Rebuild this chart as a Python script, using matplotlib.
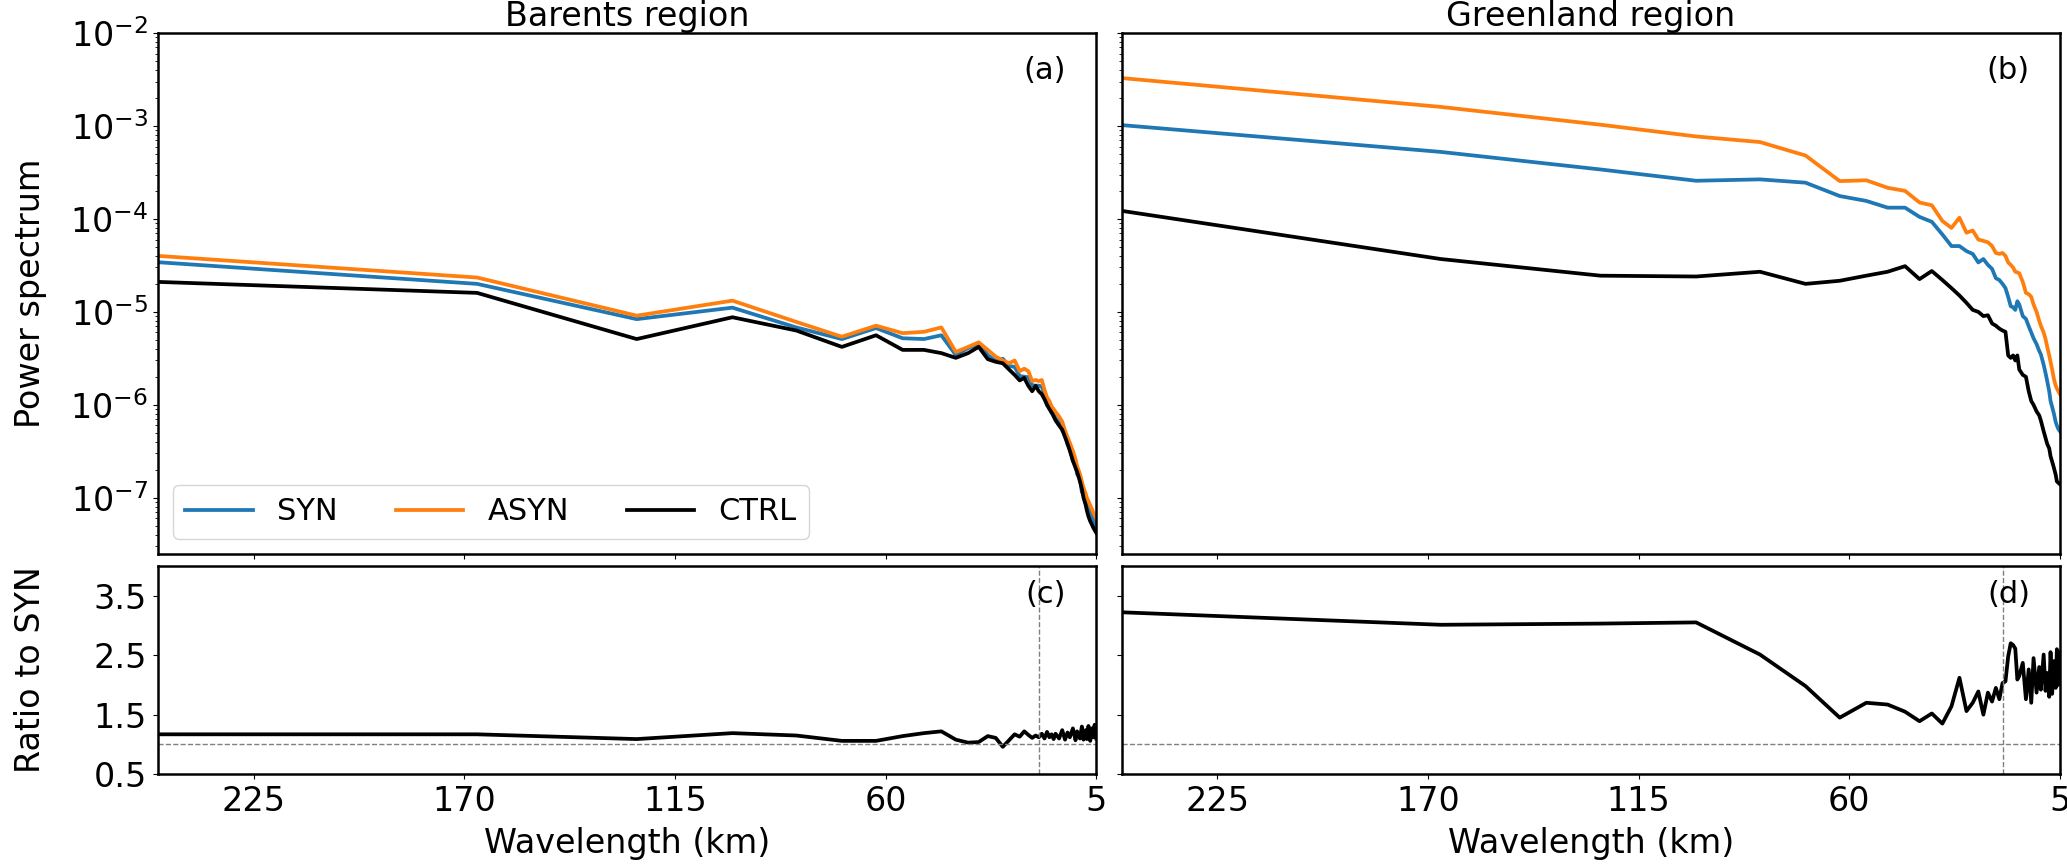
import numpy as np
import matplotlib.pyplot as plt
from matplotlib.gridspec import GridSpec

# wavelength (km) of each spectral bin, 500 km domain / wavenumber
wavelength = [250, 166.67, 125, 100, 83.33, 71.43, 62.5, 55.56, 50, 45.45,
              41.67, 38.46, 35.71, 33.33, 31.25, 29.41, 27.78, 26.32, 25, 23.81,
              22.73, 21.74, 20.83, 20, 19.23, 18.52, 17.86, 17.24, 16.67, 16.13,
              15.63, 14.71, 13.89, 13.16, 12.5, 11.9, 11.11, 10.42, 10, 9.26,
              8.77, 8.33, 7.81, 7.46, 7.04, 6.58, 6.1, 5.81, 5.43, 5]

# Barents region
barents_syn = [3.42e-5, 2.0e-5, 8.35e-6, 1.11e-5, 6.8e-6, 5.1e-6, 6.7e-6, 5.2e-6, 5.1e-6, 5.6e-6,
               3.43e-6, 4.08e-6, 4.52e-6, 3.42e-6, 2.97e-6, 3.13e-6, 2.62e-6, 2.56e-6, 2.04e-6, 2.01e-6,
               1.98e-6, 1.62e-6, 1.61e-6, 1.61e-6, 1.57e-6, 1.32e-6, 9.9e-7, 9.8e-7, 8.2e-7, 8.3e-7,
               7.1e-7, 6.8e-7, 5.3e-7, 4.9e-7, 3.75e-7, 3.5e-7, 2.5e-7, 2.4e-7, 1.8e-7, 1.64e-7,
               1.15e-7, 1.19e-7, 9.0e-8, 9.2e-8, 7.0e-8, 7.8e-8, 5.9e-8, 6.25e-8, 4.9e-8, 5.45e-8]
barents_asyn = [4.0e-5, 2.34e-5, 9.1e-6, 1.32e-5, 7.8e-6, 5.4e-6, 7.1e-6, 5.9e-6, 6.1e-6, 6.8e-6,
                3.7e-6, 4.2e-6, 4.7e-6, 3.9e-6, 3.3e-6, 3.0e-6, 2.8e-6, 3.0e-6, 2.3e-6, 2.45e-6,
                2.3e-6, 1.8e-6, 1.85e-6, 1.8e-6, 1.85e-6, 1.45e-6, 1.2e-6, 1.1e-6, 9.6e-7, 9.0e-7,
                8.4e-7, 7.5e-7, 6.6e-7, 5.3e-7, 4.5e-7, 3.9e-7, 3.2e-7, 2.6e-7, 2.2e-7, 1.8e-7,
                1.5e-7, 1.28e-7, 1.12e-7, 1.0e-7, 9.2e-8, 8.3e-8, 7.5e-8, 7.0e-8, 6.5e-8, 6.0e-8]
barents_ctrl = [2.1e-5, 1.6e-5, 5.1e-6, 8.75e-6, 6.3e-6, 4.2e-6, 5.6e-6, 3.9e-6, 3.9e-6, 3.6e-6,
                3.2e-6, 3.6e-6, 4.2e-6, 3.1e-6, 2.9e-6, 2.8e-6, 2.4e-6, 2.1e-6, 1.83e-6, 1.95e-6,
                1.6e-6, 1.4e-6, 1.6e-6, 1.4e-6, 1.3e-6, 1.15e-6, 1.0e-6, 9.0e-7, 8.3e-7, 7.5e-7,
                6.8e-7, 6.0e-7, 5.4e-7, 4.5e-7, 3.8e-7, 3.2e-7, 2.5e-7, 2.1e-7, 1.9e-7, 1.5e-7,
                1.25e-7, 1.0e-7, 8.5e-8, 7.3e-8, 6.3e-8, 5.6e-8, 5.1e-8, 4.8e-8, 4.5e-8, 4.2e-8]
barents_ratio = [1.17, 1.17, 1.09, 1.19, 1.15, 1.06, 1.06, 1.14, 1.19, 1.22,
                 1.08, 1.03, 1.04, 1.14, 1.11, 0.96, 1.07, 1.17, 1.13, 1.22,
                 1.16, 1.11, 1.15, 1.12, 1.18, 1.10, 1.21, 1.12, 1.17, 1.09,
                 1.18, 1.10, 1.24, 1.08, 1.20, 1.12, 1.27, 1.07, 1.22, 1.10,
                 1.30, 1.08, 1.24, 1.09, 1.31, 1.06, 1.27, 1.12, 1.33, 1.10]

# Greenland region
greenland_syn = [1.02e-3, 5.25e-4, 3.4e-4, 2.57e-4, 2.66e-4, 2.45e-4, 1.76e-4, 1.56e-4, 1.32e-4, 1.32e-4,
                 1.05e-4, 9.3e-5, 6.8e-5, 5.1e-5, 5.1e-5, 4.5e-5, 4.2e-5, 3.4e-5, 3.7e-5, 3.2e-5,
                 2.9e-5, 2.3e-5, 2.2e-5, 2.0e-5, 1.8e-5, 1.45e-5, 1.15e-5, 1.12e-5, 1.05e-5, 1.3e-5,
                 1.2e-5, 9.0e-6, 8.4e-6, 7.0e-6, 6.0e-6, 5.2e-6, 4.5e-6, 3.8e-6, 3.5e-6, 2.7e-6,
                 2.2e-6, 1.8e-6, 1.4e-6, 1.1e-6, 9.5e-7, 8.0e-7, 6.5e-7, 6.0e-7, 5.5e-7, 5.2e-7]
greenland_asyn = [3.27e-3, 1.6e-3, 1.03e-3, 7.7e-4, 6.7e-4, 4.8e-4, 2.55e-4, 2.6e-4, 2.16e-4, 2.0e-4,
                  1.5e-4, 1.4e-4, 9.5e-5, 8.0e-5, 1.03e-4, 7.1e-5, 7.5e-5, 6.0e-5, 5.8e-5, 5.6e-5,
                  5.1e-5, 4.3e-5, 4.2e-5, 4.3e-5, 4.0e-5, 3.4e-5, 3.2e-5, 3.0e-5, 2.7e-5, 2.66e-5,
                  2.6e-5, 2.1e-5, 1.6e-5, 1.55e-5, 1.45e-5, 1.2e-5, 1.0e-5, 8.0e-6, 7.1e-6, 6.0e-6,
                  5.1e-6, 4.2e-6, 3.4e-6, 2.9e-6, 2.4e-6, 1.9e-6, 1.6e-6, 1.5e-6, 1.4e-6, 1.3e-6]
greenland_ctrl = [1.22e-4, 3.7e-5, 2.45e-5, 2.4e-5, 2.7e-5, 2.0e-5, 2.16e-5, 2.45e-5, 2.7e-5, 3.1e-5,
                  2.25e-5, 2.75e-5, 2.2e-5, 1.8e-5, 1.5e-5, 1.25e-5, 1.05e-5, 1.0e-5, 9.0e-6, 9.2e-6,
                  7.5e-6, 7.1e-6, 6.6e-6, 6.3e-6, 6.1e-6, 3.4e-6, 3.2e-6, 3.4e-6, 3.0e-6, 3.4e-6,
                  2.4e-6, 2.1e-6, 2.0e-6, 1.4e-6, 1.1e-6, 1.0e-6, 8.5e-7, 7.7e-7, 6.8e-7, 5.2e-7,
                  4.4e-7, 3.8e-7, 3.4e-7, 2.8e-7, 2.45e-7, 2.1e-7, 1.76e-7, 1.5e-7, 1.45e-7, 1.4e-7]
greenland_ratio = [3.22, 3.01, 3.03, 3.05, 2.51, 1.98, 1.45, 1.70, 1.67, 1.55,
                   1.39, 1.52, 1.35, 1.64, 2.12, 1.56, 1.70, 1.89, 1.50, 1.87,
                   1.72, 1.95, 1.76, 2.03, 2.06, 2.48, 2.70, 2.67, 2.61, 2.09,
                   2.15, 2.37, 1.76, 2.26, 1.70, 2.45, 1.87, 2.30, 1.92, 2.51,
                   1.90, 2.20, 1.80, 2.55, 1.85, 2.40, 1.95, 2.60, 2.00, 2.55]

regions = ['Barents region', 'Greenland region']
spectra = [(barents_syn, barents_asyn, barents_ctrl), (greenland_syn, greenland_asyn, greenland_ctrl)]
ratios = [barents_ratio, greenland_ratio]
names = ['SYN', 'ASYN', 'CTRL']
colors = ['#1f77b4', '#ff7f0e', 'black']
letters = [('(a)', '(c)'), ('(b)', '(d)')]
xticks = [225, 170, 115, 60, 5]
cutoff_km = 20

fs = 24
fig = plt.figure(figsize=(20.67, 8.66), dpi=100)
gs = GridSpec(2, 2, figure=fig, height_ratios=[2.5, 1], left=0.0764, right=0.9966,
              top=0.962, bottom=0.106, wspace=0.027, hspace=0.033)

ax_top0 = None
ax_bot0 = None
for col in range(2):
    ax = fig.add_subplot(gs[0, col], sharey=ax_top0)
    axr = fig.add_subplot(gs[1, col], sharex=ax, sharey=ax_bot0)
    if col == 0:
        ax_top0, ax_bot0 = ax, axr

    for vals, name, c in zip(spectra[col], names, colors):
        ax.plot(wavelength, vals, color=c, lw=2.7, label=name)
    ax.set_yscale('log')
    ax.set_ylim(2.5e-8, 1e-2)
    ax.set_xlim(250, 5)
    ax.set_title(regions[col], fontsize=fs, pad=2)
    ax.text(0.968, 0.955, letters[col][0], transform=ax.transAxes, ha='right', va='top', fontsize=22)
    ax.tick_params(labelbottom=False, labelsize=fs)

    axr.plot(wavelength, ratios[col], color='black', lw=2.7)
    axr.axhline(1.0, color='gray', lw=1, ls='--')
    axr.axvline(cutoff_km, color='gray', lw=1, ls='--')
    axr.set_ylim(0.5, 4.0)
    axr.set_yticks([0.5, 1.5, 2.5, 3.5])
    axr.set_xticks(xticks)
    axr.set_xticklabels([str(t) for t in xticks])
    axr.tick_params(labelsize=fs, pad=4.5)
    axr.set_xlabel('Wavelength (km)', fontsize=fs, labelpad=6)
    axr.text(0.968, 0.93, letters[col][1], transform=axr.transAxes, ha='right', va='top', fontsize=22)

    for a in (ax, axr):
        for s in a.spines.values():
            s.set_linewidth(1.8)

    if col == 0:
        ax.set_ylabel('Power spectrum', fontsize=fs)
        axr.set_ylabel('Ratio to SYN', fontsize=fs)
        ax.yaxis.set_label_coords(-0.118, 0.5)
        axr.yaxis.set_label_coords(-0.118, 0.5)
        ax.legend(loc='lower left', ncol=3, fontsize=22, handlelength=2.2,
                  columnspacing=1.9, borderaxespad=0.5)
    else:
        ax.tick_params(labelleft=False)
        axr.tick_params(labelleft=False)

fig.savefig('out.png', dpi=100)
